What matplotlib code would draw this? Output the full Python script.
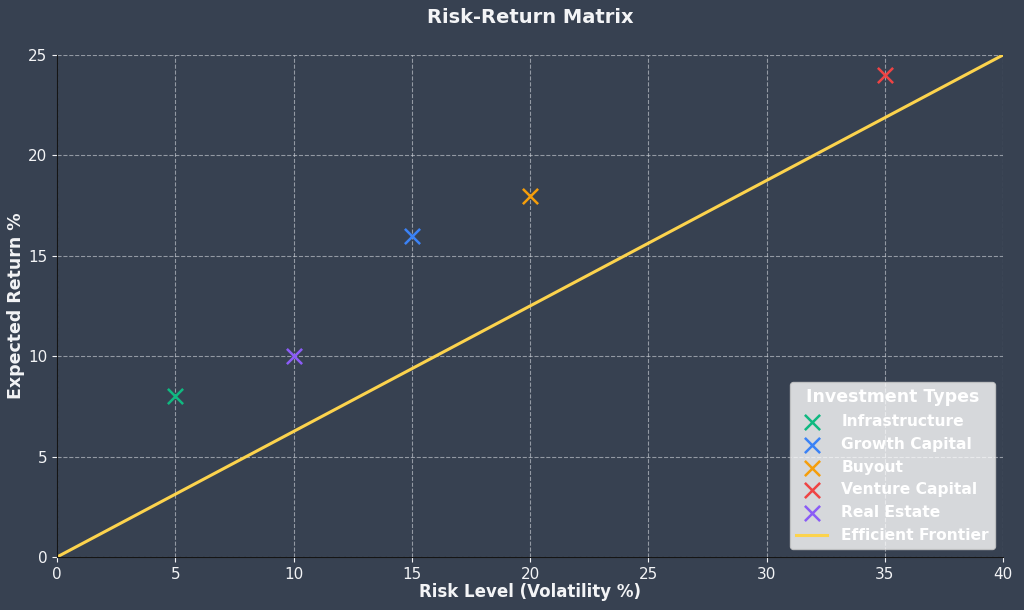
import numpy as np
import matplotlib.pyplot as plt

bg = "#374151"
txt = "#f3f4f6"

names = ["Infrastructure", "Growth Capital", "Buyout", "Venture Capital", "Real Estate"]
risk = [5, 15, 20, 35, 10]
ret = [8, 16, 18, 24, 10]
colors = ["#10b981", "#3b82f6", "#f59e0b", "#ef4444", "#8b5cf6"]

frontier_x = [0, 40]
frontier_y = [0, 25]

fig = plt.figure(figsize=(10.24, 6.1), dpi=100, facecolor=bg)
ax = fig.add_axes([57 / 1024, 1 - 557 / 610, 946 / 1024, 502 / 610])
ax.set_facecolor(bg)

for n, x, y, c in zip(names, risk, ret, colors):
    ax.scatter(x, y, marker="x", s=120, color=c, linewidths=1.8, label=n, zorder=3)

ax.plot(frontier_x, frontier_y, color="#fcd34d", linewidth=2.2, label="Efficient Frontier", zorder=2)

ax.set_xlim(0, 40)
ax.set_ylim(0, 25)
ax.grid(True, linestyle="--", color="#d1d5db", alpha=0.6, linewidth=0.8)
ax.set_axisbelow(True)

for s in ["top", "right"]:
    ax.spines[s].set_visible(False)
for s in ["left", "bottom"]:
    ax.spines[s].set_color("#151515")
ax.tick_params(colors=txt, labelsize=11)

ax.set_title("Risk-Return Matrix", color=txt, fontsize=14, fontweight="bold", pad=23)
ax.set_xlabel("Risk Level (Volatility %)", color=txt, fontsize=12, fontweight="bold", labelpad=1)
ax.set_ylabel("Expected Return %", color=txt, fontsize=12.5, fontweight="bold", labelpad=2)

leg = ax.legend(title="Investment Types", loc="lower right", fontsize=11.2,
                title_fontsize=12.5, facecolor="white", framealpha=0.8, edgecolor="#cccccc",
                handletextpad=0.9, borderaxespad=0.5)
for t in leg.get_texts():
    t.set_color("white")
    t.set_fontweight("bold")
leg.get_title().set_color("white")
leg.get_title().set_fontweight("bold")

fig.savefig("out.png", dpi=100, facecolor=bg)
